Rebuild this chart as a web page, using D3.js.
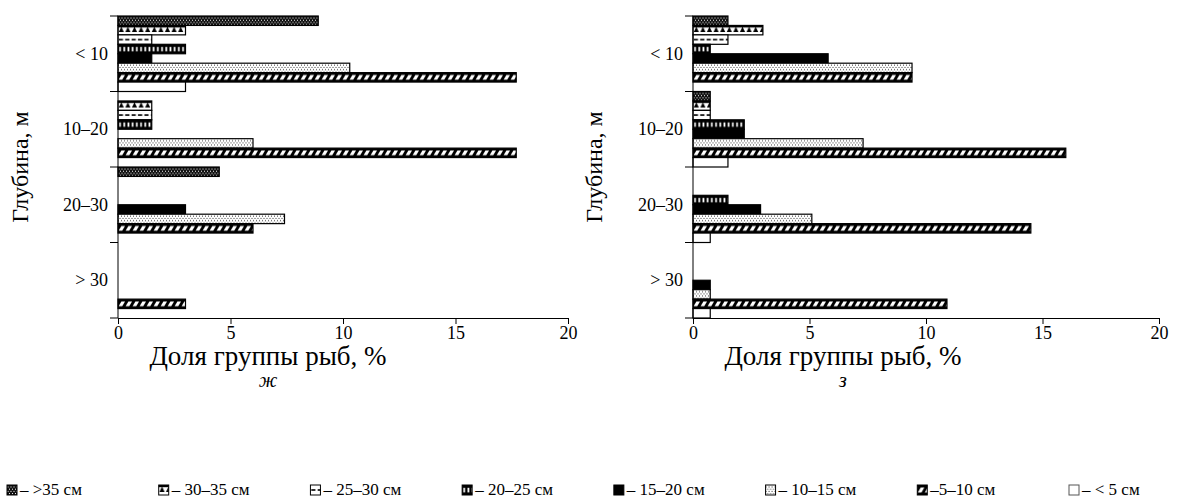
<!DOCTYPE html>
<html><head><meta charset="utf-8">
<script src="https://cdn.jsdelivr.net/npm/d3@7"></script>
<style>
body{margin:0;background:#fff}
svg{display:block}
svg text{font-family:"Liberation Serif","Times New Roman",serif;fill:#000}
</style>
</head><body>
<svg id="c" width="1178" height="501"></svg>
<script>
// ---- data ----
const depths = ["< 10", "10–20", "20–30", "> 30"];
const sizeGroups = [">35", "30–35", "25–30", "20–25", "15–20", "10–15", "5–10", "<5"];
const legendLabels = ["– >35 см", "– 30–35 см", "– 25–30 см", "– 20–25 см", "– 15–20 см", "– 10–15 см", "–5–10 см", "– < 5 см"];
// panel "ж": rows = depths, columns = size groups
const valuesZh_lt10 = [8.9, 3.0, 1.5, 3.0, 1.5, 10.3, 17.7, 3.0];
const valuesZh_10_20 = [0, 1.5, 1.5, 1.5, 0, 6.0, 17.7, 0];
const valuesZh_20_30 = [4.5, 0, 0, 0, 3.0, 7.4, 6.0, 0];
const valuesZh_gt30 = [0, 0, 0, 0, 0, 0, 3.0, 0];
// panel "з"
const valuesZ_lt10 = [1.5, 3.0, 1.5, 0.74, 5.8, 9.4, 9.4, 0];
const valuesZ_10_20 = [0.74, 0.74, 0.74, 2.2, 2.2, 7.3, 16.0, 1.5];
const valuesZ_20_30 = [0, 0, 0, 1.5, 2.9, 5.1, 14.5, 0.74];
const valuesZ_gt30 = [0, 0, 0, 0, 0.74, 0.74, 10.9, 0.74];
const xTicks = [0, 5, 10, 15, 20];
const panelLetters = ["ж", "з"];
const yTitle = "Глубина, м";
const xTitle = "Доля группы рыб, %";

// ---- drawing ----
const FONT = '"Liberation Serif","Times New Roman",serif';
const svg = d3.select("#c");
const defs = svg.append("defs");
let pid = 0;

function makeFill(s, x, y, h) {
  if (s === 4) return "#000";
  if (s === 7) return "#fff";
  const periods = [3, 6.6, 6.4, 4.2, 0, 3, 7, 0];
  const w = periods[s];
  const id = "p" + (pid++);
  const p = defs.append("pattern").attr("id", id).attr("patternUnits", "userSpaceOnUse")
    .attr("x", x).attr("y", y).attr("width", w).attr("height", h);
  if (s === 0) {
    p.append("rect").attr("width", w).attr("height", h).attr("fill", "#111");
    for (let yy = 1.5, k = 0; yy < h - 1; yy += 2.2, k++) {
      p.append("rect").attr("x", k % 2 ? 2 : 0.5).attr("y", yy).attr("width", 1).attr("height", 1).attr("fill", "#fff");
    }
  } else if (s === 1) {
    p.append("rect").attr("width", w).attr("height", h).attr("fill", "#fff");
    p.append("rect").attr("width", w).attr("height", h * 0.22).attr("fill", "#000");
    p.append("path").attr("d", `M${w/2},${h*0.15}L${w/2+2.6},${h*0.7}L${w/2-2.6},${h*0.7}Z`).attr("fill", "#000");
  } else if (s === 2) {
    p.append("rect").attr("width", w).attr("height", h).attr("fill", "#fff");
    p.append("rect").attr("x", 0.8).attr("y", h/2 - 0.8).attr("width", 4.2).attr("height", 1.6).attr("fill", "#000");
  } else if (s === 3) {
    p.append("rect").attr("width", w).attr("height", h).attr("fill", "#000");
    p.append("rect").attr("x", 1.2).attr("y", h * 0.28).attr("width", 1.7).attr("height", h * 0.46).attr("fill", "#fff");
  } else if (s === 5) {
    p.append("rect").attr("width", w).attr("height", h).attr("fill", "#fff");
    for (let yy = 1.5, k = 0; yy < h - 1; yy += 2.2, k++) {
      p.append("rect").attr("x", k % 2 ? 1.5 : 0).attr("y", yy).attr("width", 1).attr("height", 1).attr("fill", "#333");
    }
  } else if (s === 6) {
    p.append("rect").attr("width", w).attr("height", h).attr("fill", "#000");
    const a = h * 0.24, b = h * 0.76;
    p.append("path").attr("d", `M0.6,${b}L4.2,${b}L7,${a}L3.4,${a}Z`).attr("fill", "#fff");
  }
  return `url(#${id})`;
}

const panels = [
  { rows: [valuesZh_lt10, valuesZh_10_20, valuesZh_20_30, valuesZh_gt30], x0: 118, x1: 568, titleX: 20, letterX: 268, letter: panelLetters[0] },
  { rows: [valuesZ_lt10, valuesZ_10_20, valuesZ_20_30, valuesZ_gt30], x0: 693, x1: 1159, titleX: 594, letterX: 843, letter: panelLetters[1] }
];
const plotTop = 16, plotBottom = 318;

panels.forEach(P => {
  const x = d3.scaleLinear().domain([0, 20]).range([P.x0, P.x1]);
  const y = d3.scaleBand().domain(depths).range([plotTop, plotBottom]).padding(0);
  const ys = d3.scaleBand().domain(sizeGroups).range([0, y.bandwidth()]).padding(0);
  const g = svg.append("g");

  const data = [];
  depths.forEach((d, di) => sizeGroups.forEach((s, si) => {
    const v = P.rows[di][si];
    if (v > 0) data.push({ d, s, si, v });
  }));

  g.selectAll("rect.bar").data(data).join("rect").attr("class", "bar")
    .attr("x", x(0))
    .attr("y", d => y(d.d) + ys(d.s))
    .attr("width", d => x(d.v) - x(0))
    .attr("height", ys.bandwidth())
    .attr("fill", d => makeFill(d.si, x(0), y(d.d) + ys(d.s), ys.bandwidth()))
    .attr("stroke", "#000").attr("stroke-width", 1.2);

  // x axis
  const xa = g.append("g").attr("transform", `translate(0,${plotBottom})`)
    .call(d3.axisBottom(x).tickValues(xTicks).tickSize(6).tickSizeOuter(0).tickPadding(2));
  xa.attr("font-family", FONT);
  xa.select(".domain").attr("stroke", "#000");
  xa.selectAll(".tick line").attr("stroke", "#000");
  xa.selectAll("text").attr("font-size", 18).style("font-family", FONT);

  // y axis
  g.append("line").attr("x1", x(0)).attr("x2", x(0)).attr("y1", plotTop).attr("y2", plotBottom).attr("stroke", "#000");
  const bounds = depths.map(d => y(d)).concat([plotBottom]);
  g.selectAll("line.yt").data(bounds).join("line").attr("class", "yt")
    .attr("x1", x(0) - 8).attr("x2", x(0)).attr("y1", d => d).attr("y2", d => d).attr("stroke", "#000");
  g.selectAll("text.yl").data(depths).join("text").attr("class", "yl")
    .attr("x", x(0) - 10).attr("y", d => y(d) + y.bandwidth() / 2)
    .attr("text-anchor", "end").attr("dominant-baseline", "central").attr("font-size", 18)
    .style("font-family", FONT)
    .text(d => d);

  // titles
  g.append("text").attr("x", P.letterX).attr("y", 365).attr("text-anchor", "middle").attr("font-size", 27)
    .style("font-family", FONT).text(xTitle);
  g.append("text").attr("x", P.letterX).attr("y", 387).attr("text-anchor", "middle").attr("font-size", 20)
    .style("font-family", FONT).attr("font-style", "italic").text(P.letter);
  g.append("text").attr("transform", `translate(${P.titleX},${(plotTop + plotBottom) / 2}) rotate(-90)`)
    .attr("text-anchor", "middle").attr("dominant-baseline", "central").attr("font-size", 24)
    .style("font-family", FONT).text(yTitle);
});

// legend
const lx = d3.scalePoint().domain(sizeGroups).range([7, 1069]);
const lg = svg.append("g");
const items = lg.selectAll("g").data(sizeGroups).join("g")
  .attr("transform", d => `translate(${lx(d)},485)`);
items.append("rect").attr("width", 10).attr("height", 10)
  .attr("fill", (d, i) => makeFill(i, 0, 0, 10))
  .attr("stroke", (d, i) => i === 7 ? "#555" : "#000").attr("stroke-width", 1);
items.append("text").attr("x", 13).attr("y", 10).attr("font-size", 17)
  .style("font-family", FONT)
  .text((d, i) => legendLabels[i]);
</script>
</body></html>
